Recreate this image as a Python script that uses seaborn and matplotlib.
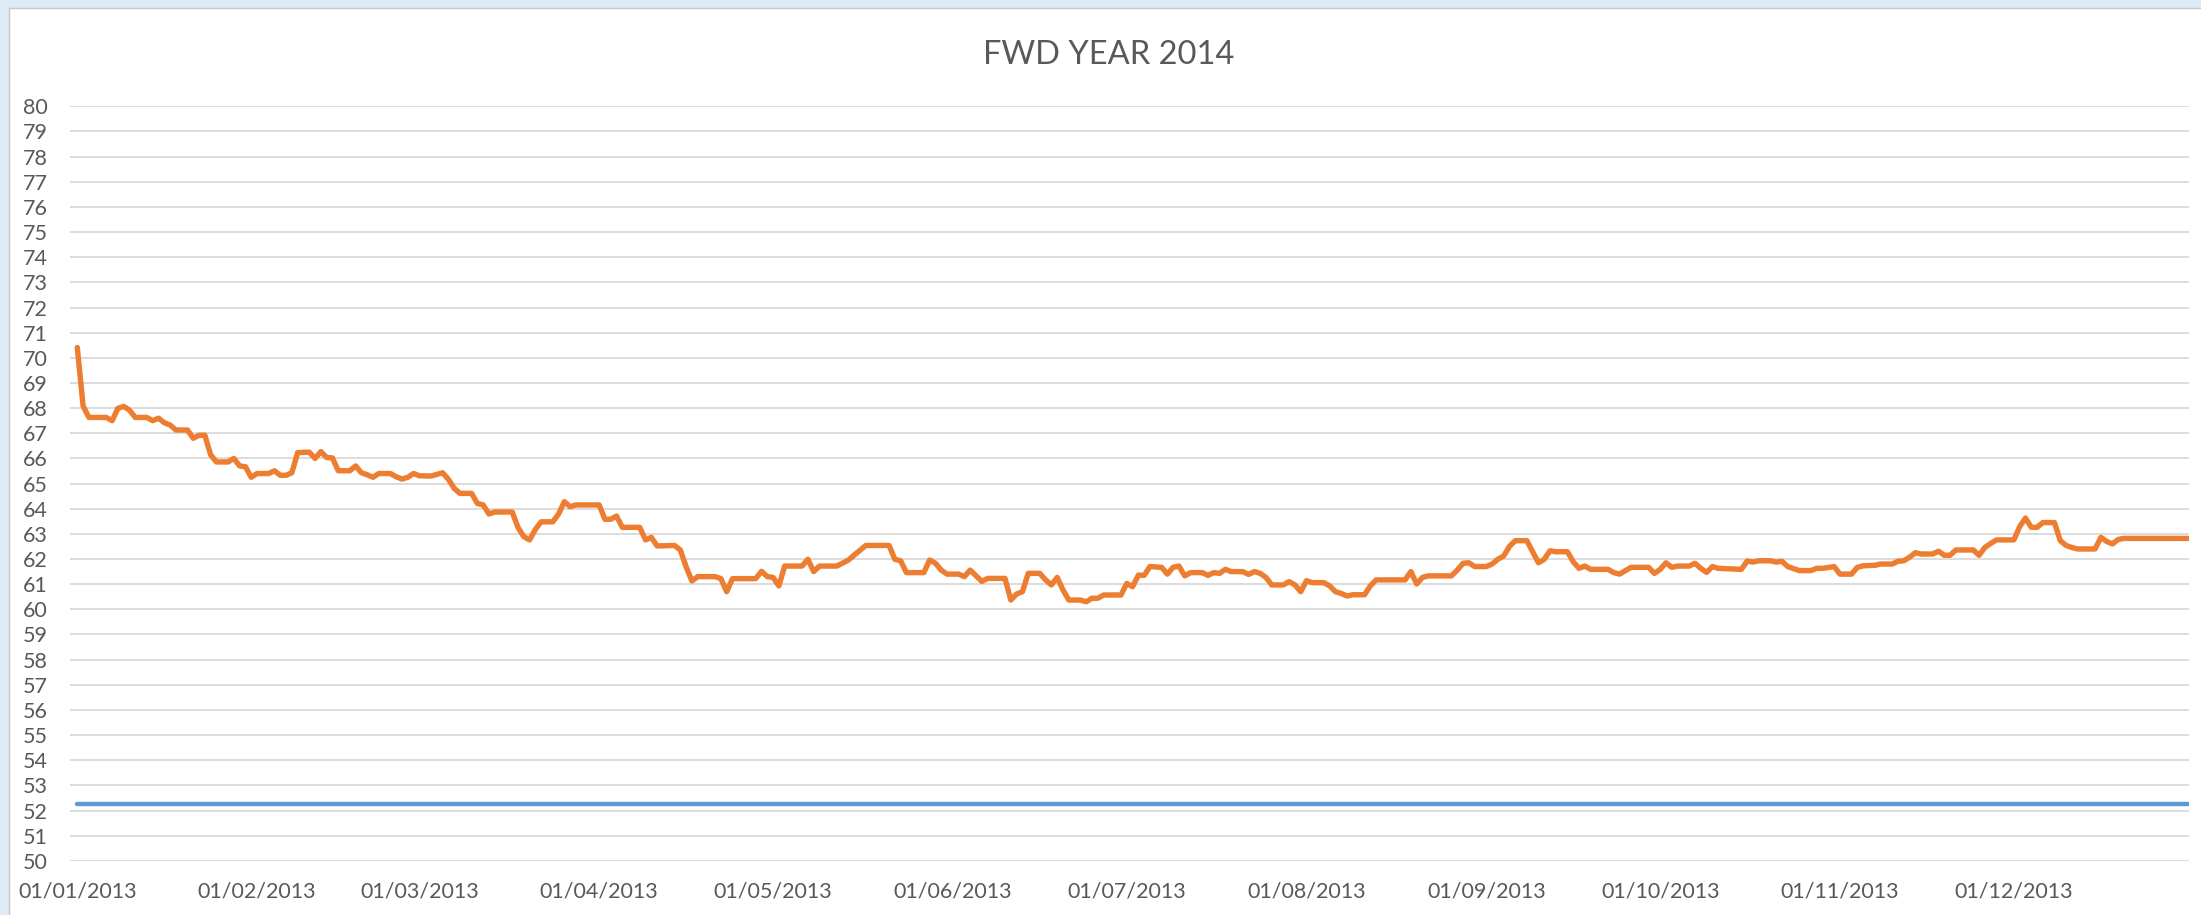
import pandas as pd
import matplotlib.pyplot as plt
import matplotlib.dates as mdates
from matplotlib.patches import Rectangle
import seaborn as sns

# ================= DATA =================
TITLE = "FWD YEAR 2014"
YEAR = 2013

# orange series: forward price (dd/mm, one line per month)
fwd_dates = [
    "01/01", "02/01", "03/01", "06/01", "07/01", "08/01", "09/01", "10/01", "11/01", "13/01", "14/01", "15/01", "16/01",
    "17/01", "18/01", "20/01", "21/01", "22/01", "23/01", "24/01", "25/01", "27/01", "28/01", "29/01", "30/01", "31/01",
    "01/02", "03/02", "04/02", "05/02", "06/02", "07/02", "08/02", "10/02", "11/02", "12/02", "13/02", "14/02",
    "15/02", "17/02", "18/02", "19/02", "20/02", "21/02", "22/02", "24/02", "25/02", "26/02", "27/02", "28/02",
    "01/03", "03/03", "05/03", "06/03", "07/03", "08/03", "10/03", "11/03", "12/03", "13/03", "14/03",
    "17/03", "18/03", "19/03", "20/03", "21/03", "22/03", "24/03", "25/03", "26/03", "27/03", "28/03",
    "01/04", "02/04", "03/04", "04/04", "05/04", "08/04", "09/04", "10/04", "11/04", "14/04", "15/04",
    "16/04", "17/04", "18/04", "21/04", "22/04", "23/04", "24/04", "28/04", "29/04", "30/04",
    "01/05", "02/05", "03/05", "06/05", "07/05", "08/05", "09/05", "12/05", "14/05", "15/05",
    "17/05", "21/05", "22/05", "23/05", "24/05", "27/05", "28/05", "29/05", "30/05", "31/05",
    "02/06", "03/06", "04/06", "06/06", "07/06", "10/06", "11/06", "12/06", "13/06", "14/06", "16/06",
    "17/06", "18/06", "19/06", "20/06", "21/06", "23/06", "24/06", "25/06", "26/06", "27/06", "30/06",
    "01/07", "02/07", "03/07", "04/07", "05/07", "07/07", "08/07", "09/07", "10/07", "11/07", "12/07", "14/07", "15/07",
    "16/07", "17/07", "18/07", "19/07", "21/07", "22/07", "23/07", "24/07", "25/07", "26/07", "28/07", "29/07", "30/07", "31/07",
    "01/08", "02/08", "04/08", "05/08", "06/08", "07/08", "08/08", "09/08", "11/08", "12/08", "13/08",
    "18/08", "19/08", "20/08", "21/08", "22/08", "26/08", "27/08", "28/08", "29/08", "30/08",
    "01/09", "02/09", "03/09", "04/09", "05/09", "06/09", "08/09", "09/09", "10/09", "11/09", "12/09", "13/09",
    "15/09", "16/09", "17/09", "18/09", "19/09", "22/09", "23/09", "24/09", "25/09", "26/09", "29/09", "30/09",
    "01/10", "02/10", "03/10", "04/10", "06/10", "07/10", "08/10", "09/10", "10/10", "11/10", "15/10", "16/10",
    "17/10", "18/10", "20/10", "21/10", "22/10", "23/10", "25/10", "27/10", "28/10", "29/10", "31/10",
    "01/11", "03/11", "04/11", "05/11", "07/11", "08/11", "10/11", "11/11", "12/11", "13/11", "14/11",
    "15/11", "17/11", "18/11", "19/11", "20/11", "21/11", "24/11", "25/11", "26/11", "27/11", "28/11",
    "01/12", "02/12", "03/12", "04/12", "05/12", "06/12", "08/12", "09/12", "10/12",
    "11/12", "12/12", "15/12", "16/12", "17/12", "18/12", "19/12", "20/12", "31/12",
]
fwd_values = [
    70.41, 68.08, 67.63, 67.63, 67.50, 67.99, 68.07, 67.92, 67.63, 67.63, 67.50, 67.60, 67.42,
    67.33, 67.13, 67.13, 66.80, 66.92, 66.92, 66.14, 65.86, 65.86, 66.00, 65.70, 65.67, 65.25,
    65.40, 65.40, 65.51, 65.33, 65.33, 65.43, 66.23, 66.25, 66.00, 66.27, 66.04, 66.02,
    65.51, 65.51, 65.70, 65.43, 65.35, 65.25, 65.40, 65.40, 65.27, 65.18, 65.25, 65.40,
    65.31, 65.30, 65.43, 65.17, 64.81, 64.61, 64.61, 64.21, 64.15, 63.79, 63.87,
    63.87, 63.26, 62.89, 62.76, 63.18, 63.48, 63.48, 63.79, 64.28, 64.08, 64.15,
    64.15, 63.58, 63.58, 63.71, 63.26, 63.26, 62.76, 62.86, 62.52, 62.54, 62.36,
    61.69, 61.13, 61.30, 61.30, 61.22, 60.70, 61.22, 61.22, 61.51, 61.30,
    61.27, 60.93, 61.72, 61.72, 61.99, 61.50, 61.72, 61.72, 61.96, 62.16,
    62.54, 62.54, 61.99, 61.93, 61.46, 61.46, 61.96, 61.83, 61.56, 61.40,
    61.40, 61.30, 61.56, 61.11, 61.23, 61.23, 60.37, 60.61, 60.70, 61.43, 61.43,
    61.17, 60.97, 61.27, 60.77, 60.37, 60.37, 60.30, 60.44, 60.44, 60.57, 60.57,
    61.03, 60.90, 61.36, 61.35, 61.70, 61.67, 61.40, 61.67, 61.72, 61.33, 61.46, 61.46, 61.35,
    61.46, 61.43, 61.59, 61.50, 61.50, 61.39, 61.50, 61.43, 61.27, 60.97, 60.97, 61.10, 60.97, 60.70,
    61.14, 61.06, 61.06, 60.93, 60.70, 60.63, 60.53, 60.58, 60.58, 60.93, 61.17,
    61.17, 61.50, 61.01, 61.27, 61.33, 61.33, 61.56, 61.83, 61.85, 61.70,
    61.70, 61.80, 61.99, 62.12, 62.50, 62.73, 62.73, 62.29, 61.85, 61.99, 62.33, 62.29,
    62.29, 61.89, 61.63, 61.72, 61.59, 61.59, 61.46, 61.40, 61.54, 61.67, 61.67, 61.43,
    61.59, 61.85, 61.67, 61.72, 61.72, 61.83, 61.63, 61.47, 61.70, 61.63, 61.59, 61.92,
    61.88, 61.93, 61.93, 61.88, 61.91, 61.70, 61.54, 61.54, 61.63, 61.63, 61.70,
    61.40, 61.40, 61.67, 61.73, 61.75, 61.80, 61.80, 61.91, 61.93, 62.07, 62.25,
    62.20, 62.20, 62.31, 62.15, 62.15, 62.36, 62.36, 62.15, 62.46, 62.62, 62.76,
    62.76, 63.29, 63.63, 63.26, 63.26, 63.45, 63.45, 62.73, 62.54,
    62.46, 62.40, 62.40, 62.86, 62.70, 62.60, 62.78, 62.82, 62.82,
]

# blue series: flat reference level
base_dates = ["01/01", "31/12"]
base_values = [52.27, 52.27]

y_ticks = list(range(50, 81))
x_tick_dates = ["01/01", "01/02", "01/03", "01/04", "01/05", "01/06",
                "01/07", "01/08", "01/09", "01/10", "01/11", "01/12"]

# ================= STYLE =================
ORANGE = "#ED7D31"
BLUE = "#5B9BD5"
GRID = "#D9D9D9"
TEXT = "#595959"
FONT = ["Lato", "DejaVu Sans"]


def to_dates(days):
    return pd.to_datetime([f"{d}/{YEAR}" for d in days], format="%d/%m/%Y")


def make_chart():
    sns.set_theme(style="white")
    plt.rcParams["font.family"] = FONT

    fwd = pd.DataFrame({"date": to_dates(fwd_dates), "value": fwd_values})
    base = pd.DataFrame({"date": to_dates(base_dates), "value": base_values})

    fig = plt.figure(figsize=(22.01, 9.15), dpi=100)
    fig.patch.set_facecolor("#DEEAF6")
    # white chart area, the screenshot crops it on the right and bottom
    fig.patches.append(Rectangle((9 / 2201, -0.01), 1.0, 1.0 - 8 / 915 + 0.01,
                                 transform=fig.transFigure, facecolor="white",
                                 edgecolor="#C8C8C8", linewidth=1.0, zorder=-10))

    ax = fig.add_axes([70 / 2201, 0.0592, 2119 / 2201, 0.8246])
    ax.set_zorder(5)
    ax.set_facecolor("none")

    sns.lineplot(data=base, x="date", y="value", color=BLUE, linewidth=3.2, ax=ax)
    sns.lineplot(data=fwd, x="date", y="value", color=ORANGE, linewidth=3.9, ax=ax)

    ax.set_ylim(50, 80)
    ax.set_yticks(y_ticks)
    start = pd.Timestamp(f"{YEAR}-01-01")
    ax.set_xlim(start - pd.Timedelta(days=1.26), start + pd.Timedelta(days=364.2))
    ax.set_xticks(to_dates(x_tick_dates))
    ax.xaxis.set_major_formatter(mdates.DateFormatter("%d/%m/%Y"))

    ax.grid(axis="y", color=GRID, linewidth=1.3)
    ax.grid(axis="x", visible=False)
    ax.set_axisbelow(True)
    for side in ax.spines.values():
        side.set_visible(False)
    ax.tick_params(axis="both", length=0, labelsize=15.5, labelcolor=TEXT)
    ax.tick_params(axis="y", pad=16)
    ax.tick_params(axis="x", pad=15)
    ax.set_xlabel("")
    ax.set_ylabel("")

    fig.text(1109 / 2201, 1 - 55 / 915, TITLE, ha="center", va="center",
             fontsize=23.5, color=TEXT)

    fig.savefig("out.png", dpi=100, facecolor=fig.get_facecolor())
    plt.close(fig)


if __name__ == "__main__":
    make_chart()
